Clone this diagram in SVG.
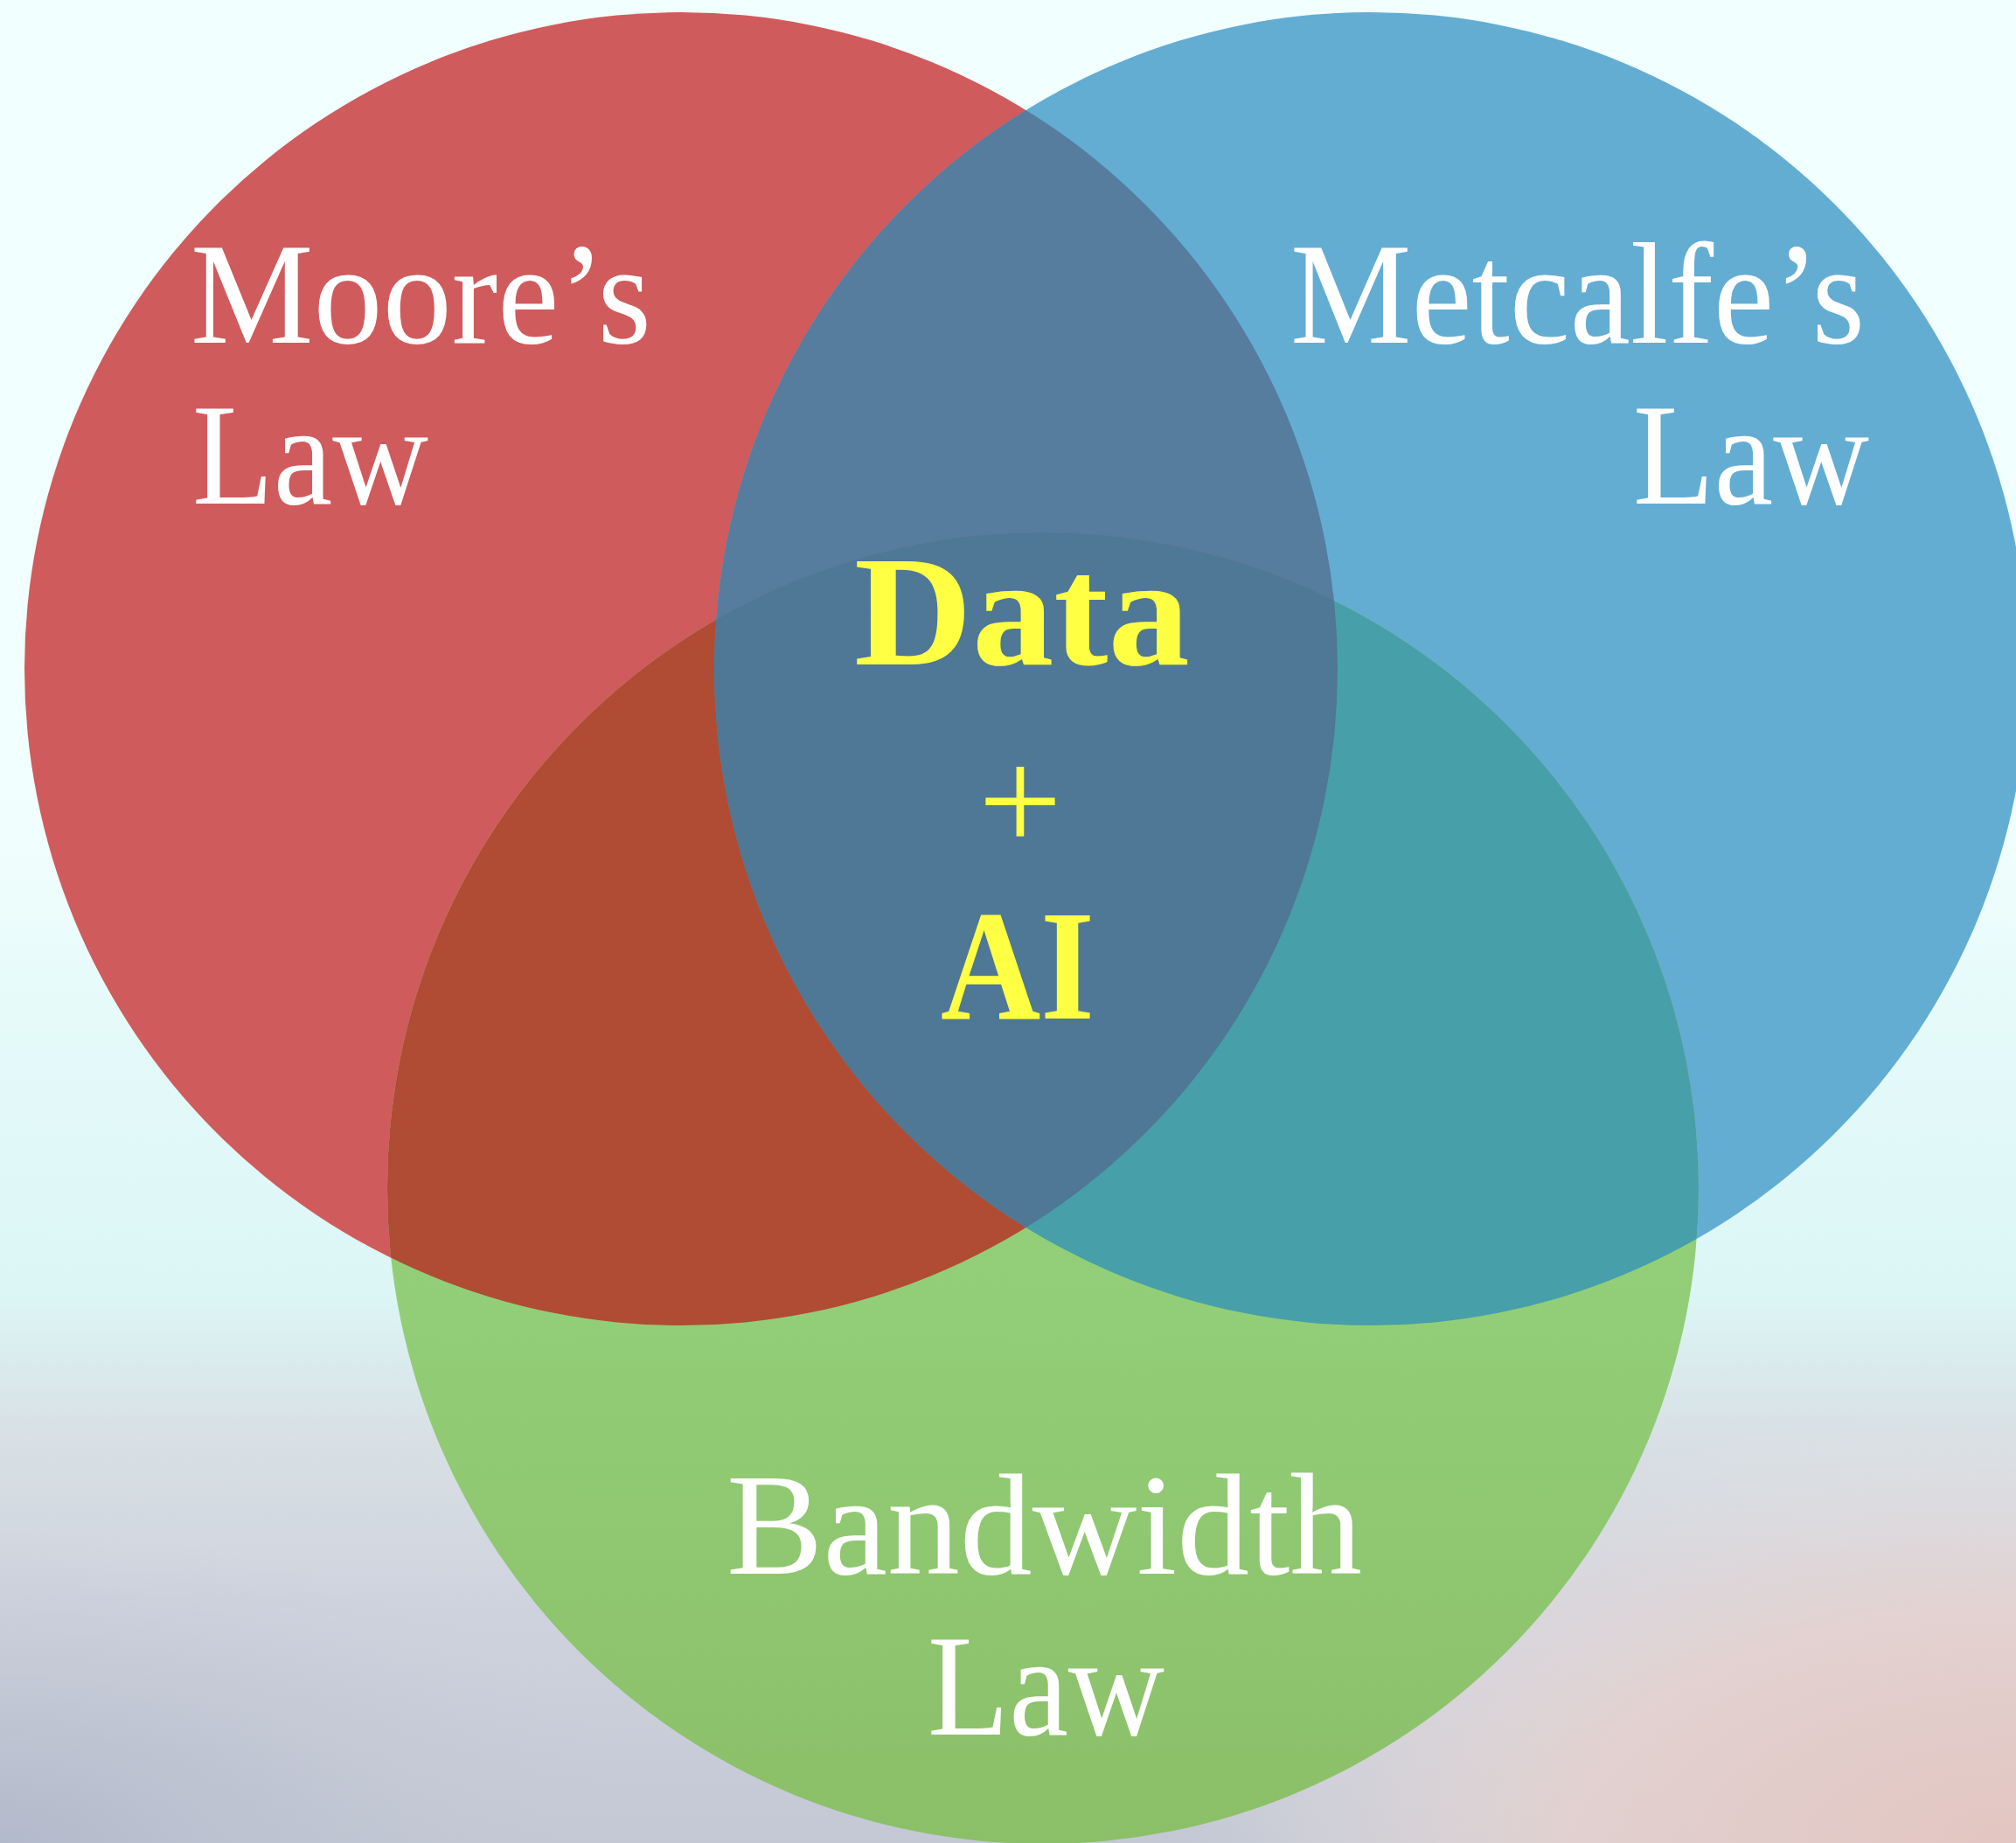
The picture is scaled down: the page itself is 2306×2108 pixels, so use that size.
<svg xmlns="http://www.w3.org/2000/svg" width="2306" height="2108" viewBox="0 0 2306 2108">
<defs>
  <linearGradient id="bgV" x1="0" y1="0" x2="0" y2="2108" gradientUnits="userSpaceOnUse">
    <stop offset="0" stop-color="#F1FFFE"/>
    <stop offset="0.46" stop-color="#F0FEFD"/>
    <stop offset="0.56" stop-color="#E4FAF9"/>
    <stop offset="0.70" stop-color="#DCF6F6"/>
    <stop offset="0.78" stop-color="#D8E0E4"/>
    <stop offset="0.87" stop-color="#CFD3DE"/>
    <stop offset="1" stop-color="#C3C8D4"/>
  </linearGradient>
  <radialGradient id="pinkBR" cx="2306" cy="2108" r="900" gradientUnits="userSpaceOnUse" gradientTransform="translate(2306 2108) scale(1.05 0.55) translate(-2306 -2108)">
    <stop offset="0" stop-color="#E3C5C1" stop-opacity="1"/>
    <stop offset="0.55" stop-color="#E6D2CF" stop-opacity="0.85"/>
    <stop offset="1" stop-color="#EAE4E4" stop-opacity="0"/>
  </radialGradient>
  <radialGradient id="blueBL" cx="0" cy="2108" r="600" gradientUnits="userSpaceOnUse" gradientTransform="translate(0 2108) scale(1.2 0.6) translate(0 -2108)">
    <stop offset="0" stop-color="#B2B9CA" stop-opacity="1"/>
    <stop offset="1" stop-color="#C4C9D6" stop-opacity="0"/>
  </radialGradient>
  <linearGradient id="greenG" x1="0" y1="609" x2="0" y2="2109" gradientUnits="userSpaceOnUse">
    <stop offset="0" stop-color="#96D47D"/>
    <stop offset="0.6" stop-color="#92CE77"/>
    <stop offset="1" stop-color="#8BBF68"/>
  </linearGradient>
  <clipPath id="clipRed"><circle cx="779" cy="765" r="751"/></clipPath>
  <clipPath id="clipBlue"><circle cx="1568" cy="765" r="751"/></clipPath>
</defs>
<style>
  .lbl{font-family:"Liberation Serif","Times New Roman",serif;fill:#FFFFFF;font-size:165px}
  .ctr{font-family:"Liberation Serif","Times New Roman",serif;fill:#FFFF44;font-size:180px;font-weight:bold}
  .plus{font-family:"Liberation Serif","Times New Roman",serif;fill:#FFFF44;font-size:170px}
</style>
<g id="background">
  <rect x="0" y="0" width="2306" height="2108" fill="url(#bgV)"/>
  <rect x="0" y="0" width="2306" height="2108" fill="url(#blueBL)"/>
  <rect x="0" y="0" width="2306" height="2108" fill="url(#pinkBR)"/>
</g>
<g id="circles">
  <circle id="circle-moore" cx="779" cy="765" r="751" fill="#D05B5C"/>
  <circle id="circle-metcalfe" cx="1568" cy="765" r="751" fill="#63ADD3"/>
  <circle id="circle-bandwidth" cx="1193" cy="1359" r="750" fill="url(#greenG)"/>
  <circle cx="1568" cy="765" r="751" fill="#567C9E" clip-path="url(#clipRed)"/>
  <circle cx="1193" cy="1359" r="750" fill="#B04B34" clip-path="url(#clipRed)"/>
  <circle cx="1193" cy="1359" r="750" fill="#479FA9" clip-path="url(#clipBlue)"/>
  <g clip-path="url(#clipRed)">
    <circle cx="1193" cy="1359" r="750" fill="#4F7796" clip-path="url(#clipBlue)"/>
  </g>
</g>
<g id="connectors"/>
<g id="moore">
  <text class="lbl" x="218" y="392" textLength="527" lengthAdjust="spacingAndGlyphs">Moore’s</text>
  <text class="lbl" x="220" y="576" textLength="270" lengthAdjust="spacingAndGlyphs">Law</text>
</g>
<g id="metcalfe">
  <text class="lbl" x="1476" y="392" textLength="657" lengthAdjust="spacingAndGlyphs">Metcalfe’s</text>
  <text class="lbl" x="1868" y="576" textLength="270" lengthAdjust="spacingAndGlyphs">Law</text>
</g>
<g id="bandwidth">
  <text class="lbl" x="831" y="1800" textLength="727" lengthAdjust="spacingAndGlyphs">Bandwidth</text>
  <text class="lbl" x="1061" y="1984" textLength="271" lengthAdjust="spacingAndGlyphs">Law</text>
</g>
<g id="center">
  <text class="ctr" x="977" y="760" textLength="384" lengthAdjust="spacingAndGlyphs">Data</text>
  <text class="plus" x="1167" y="973" text-anchor="middle">+</text>
  <text class="ctr" x="1076" y="1165" textLength="176" lengthAdjust="spacingAndGlyphs">AI</text>
</g>
</svg>
